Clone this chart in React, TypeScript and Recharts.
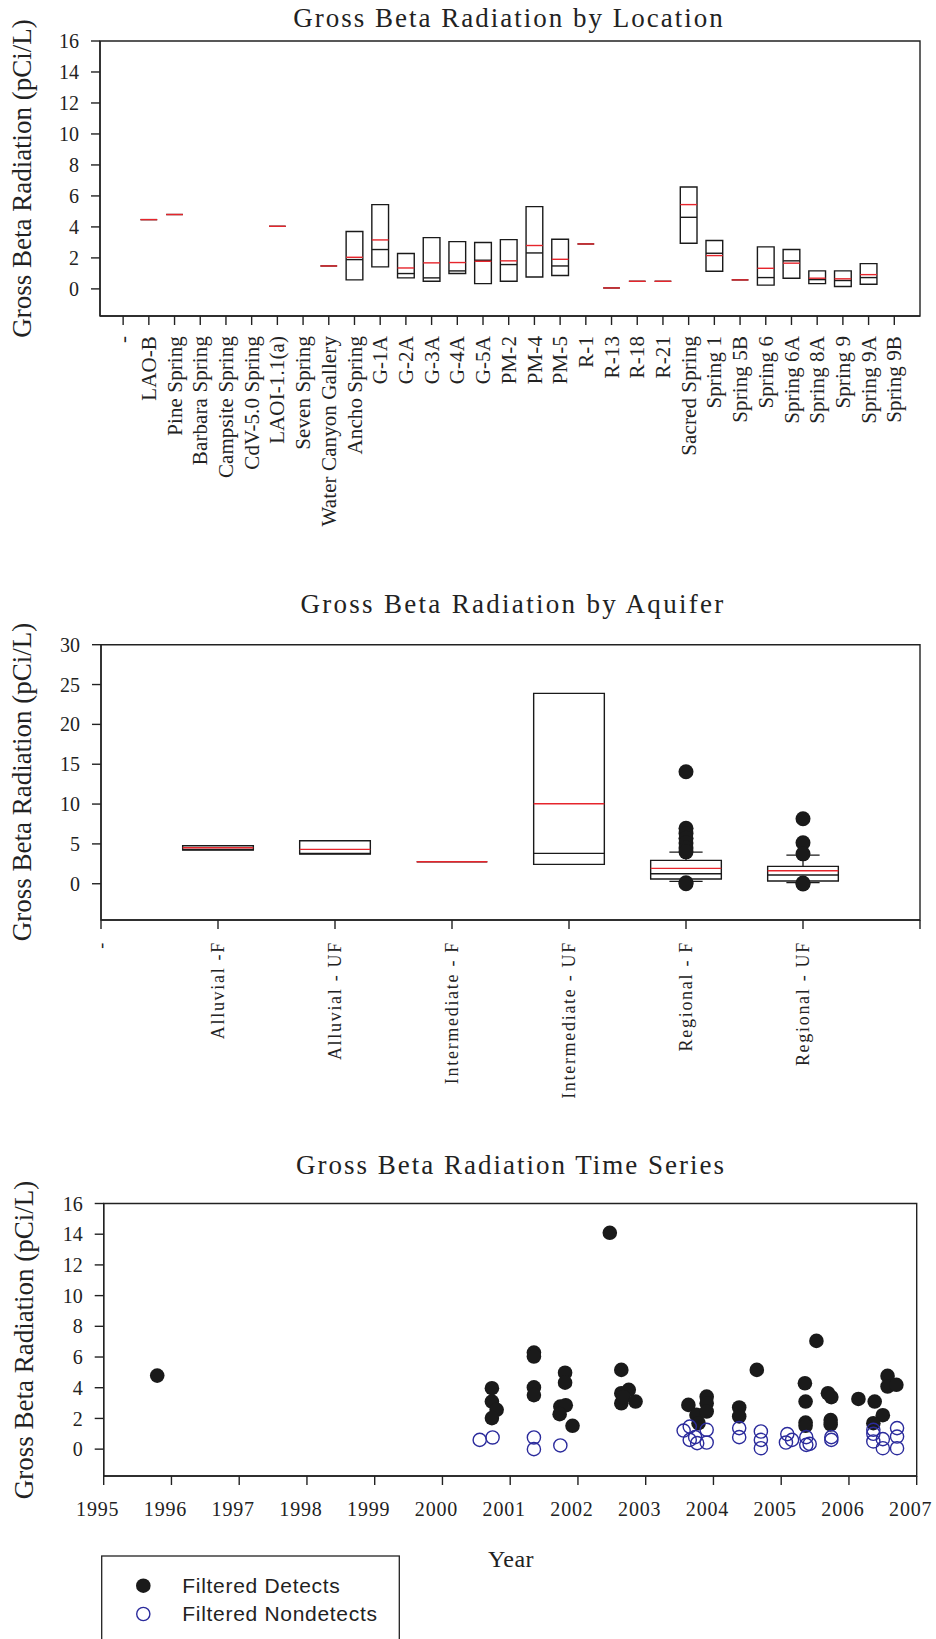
import React from 'react';
import { ComposedChart, Scatter, XAxis, YAxis, ReferenceArea, ReferenceLine } from 'recharts';

const SERIF = '"Liberation Serif", "Times New Roman", serif';
const SANS = '"Liberation Sans", Arial, sans-serif';
const INK = '#222222';
const BOX = '#1a1a1a';
const RED = '#e6252c';
const BLUE = '#2b2b9c';

// ---------- Chart 1: by location ----------
const locationNames = [
  '-', 'LAO-B', 'Pine Spring', 'Barbara Spring', 'Campsite Spring', 'CdV-5.0 Spring',
  'LAOI-1.1(a)', 'Seven Spring', 'Water Canyon Gallery', 'Ancho Spring', 'G-1A', 'G-2A',
  'G-3A', 'G-4A', 'G-5A', 'PM-2', 'PM-4', 'PM-5', 'R-1', 'R-13', 'R-18', 'R-21',
  'Sacred Spring', 'Spring 1', 'Spring 5B', 'Spring 6', 'Spring 6A', 'Spring 8A',
  'Spring 9', 'Spring 9A', 'Spring 9B',
];
const locationQ1 = [null, 4.47, 4.8, null, null, null, 4.04, null, 1.48, 0.58, 1.42, 0.71, 0.49, 0.99, 0.34, 0.49, 0.77, 0.86, 2.9, 0.06, 0.49, 0.49, 2.95, 1.14, 0.58, 0.24, 0.69, 0.34, 0.15, 0.3, null];
const locationMedian = [null, 4.47, 4.8, null, null, null, 4.04, null, 1.48, 1.89, 2.54, 0.99, 0.71, 1.16, 1.85, 1.57, 2.32, 1.48, 2.9, 0.06, 0.49, 0.49, 4.62, 2.3, 0.58, 0.73, 1.81, 0.6, 0.54, 0.73, null];
const locationQ3 = [null, 4.47, 4.8, null, null, null, 4.04, null, 1.48, 3.7, 5.44, 2.28, 3.31, 3.05, 2.99, 3.18, 5.31, 3.2, 2.9, 0.06, 0.49, 0.49, 6.58, 3.12, 0.58, 2.71, 2.54, 1.16, 1.16, 1.63, null];
const locationMean = [null, 4.47, 4.8, null, null, null, 4.04, null, 1.48, 2.04, 3.16, 1.35, 1.68, 1.7, 1.78, 1.81, 2.8, 1.91, 2.9, 0.06, 0.49, 0.49, 5.44, 2.15, 0.58, 1.33, 1.66, 0.69, 0.65, 0.92, null];
const locationYTicks = [0, 2, 4, 6, 8, 10, 12, 14, 16];

// ---------- Chart 2: by aquifer ----------
const aquiferNames = ['-', 'Alluvial -F', 'Alluvial - UF', 'Intermediate - F', 'Intermediate - UF', 'Regional - F', 'Regional - UF', ''];
const aquiferQ1 = [null, 4.23, 3.73, 2.76, 2.43, 0.59, 0.34];
const aquiferMedian = [null, 4.3, 3.8, 2.76, 3.81, 1.26, 1.09];
const aquiferQ3 = [null, 4.77, 5.4, 2.76, 23.89, 2.93, 2.18];
const aquiferMean = [null, 4.52, 4.31, 2.76, 10.04, 1.93, 1.63];
const aquiferWhiskerLow = [null, null, null, null, null, 0.3, 0.13];
const aquiferWhiskerHigh = [null, null, null, null, null, 3.98, 3.6];
const regionalFOutliers = [14.05, 6.95, 6.3, 5.7, 5.1, 4.5, 4.0, 0.13, 0.0];
const regionalUFOutliers = [8.16, 5.14, 3.75, 0.1, -0.04];
const aquiferYTicks = [0, 5, 10, 15, 20, 25, 30];

// ---------- Chart 3: time series ----------
const detectPoints = [
  [1995.79, 4.79],
  [2000.73, 3.97], [2000.73, 3.1], [2000.8, 2.56], [2000.73, 2.02],
  [2001.35, 6.29], [2001.35, 6.03], [2001.35, 4.02], [2001.35, 3.52],
  [2001.81, 4.98], [2001.81, 4.33], [2001.74, 2.77], [2001.82, 2.86], [2001.73, 2.28], [2001.92, 1.52],
  [2002.47, 14.09],
  [2002.64, 5.16], [2002.64, 3.64], [2002.64, 2.99], [2002.75, 3.86], [2002.67, 3.4], [2002.85, 3.1],
  [2003.63, 2.88], [2003.75, 2.23], [2003.78, 1.69], [2003.9, 3.42], [2003.9, 2.99], [2003.9, 2.45],
  [2004.38, 2.71], [2004.38, 2.13], [2004.64, 5.16],
  [2005.35, 4.29], [2005.36, 3.1], [2005.36, 1.73], [2005.36, 1.52], [2005.52, 7.05],
  [2005.69, 3.64], [2005.74, 3.39], [2005.73, 1.89], [2005.73, 1.61],
  [2006.14, 3.27], [2006.38, 3.1], [2006.5, 2.21], [2006.36, 1.69],
  [2006.57, 4.77], [2006.57, 4.08], [2006.7, 4.19],
];
const nondetectPoints = [
  [2000.55, 0.6], [2000.74, 0.76], [2001.35, 0.76], [2001.35, 0.0], [2001.74, 0.24],
  [2003.56, 1.21], [2003.65, 1.47], [2003.65, 0.6], [2003.76, 0.39], [2003.73, 0.78], [2003.9, 1.26], [2003.9, 0.43],
  [2004.38, 1.37], [2004.38, 0.78], [2004.7, 1.15], [2004.7, 0.6], [2004.7, 0.06],
  [2005.09, 0.98], [2005.07, 0.43], [2005.16, 0.6], [2005.37, 0.78], [2005.37, 0.28], [2005.42, 0.34],
  [2005.74, 0.78], [2005.74, 0.6],
  [2006.36, 1.26], [2006.36, 1.0], [2006.36, 0.5], [2006.5, 0.65], [2006.5, 0.06],
  [2006.71, 1.37], [2006.71, 0.82], [2006.71, 0.06],
];
const yearTicks = [1995, 1996, 1997, 1998, 1999, 2000, 2001, 2002, 2003, 2004, 2005, 2006, 2007];
const seriesYTicks = [0, 2, 4, 6, 8, 10, 12, 14, 16];

const Y_LABEL = 'Gross Beta Radiation (pCi/L)';

const tickStyle = { fontSize: 20, fontFamily: SERIF, fill: INK };

function makeRotTick(names: string[], offset: number, fontSize: number, spacing: number) {
  return (props: any) => {
    const { x, y, payload } = props;
    const label = names[Math.round(payload.value) - offset] ?? '';
    return (
      <text
        x={x}
        y={y}
        transform={`rotate(-90 ${x} ${y})`}
        textAnchor="end"
        dy="0.34em"
        fontSize={fontSize}
        fontFamily={SERIF}
        fill={INK}
        letterSpacing={spacing}
      >
        {label}
      </text>
    );
  };
}

const yearTick = (props: any) => {
  const { x, y, payload } = props;
  return (
    <text x={x - 6} y={y} dy="0.71em" textAnchor="middle" fontSize={20} fontFamily={SERIF} fill={INK} letterSpacing={0.8}>
      {payload.value}
    </text>
  );
};

function hLine(half: number, color: string, width: number) {
  return (p: any) => (
    <line x1={p.cx - half} x2={p.cx + half} y1={p.cy} y2={p.cy} stroke={color} strokeWidth={width} />
  );
}

const dotShape = (r: number) => (p: any) => <circle cx={p.cx} cy={p.cy} r={r} fill="#1a1a1a" />;
const ringShape = (p: any) => <circle cx={p.cx} cy={p.cy} r={6.6} fill="none" stroke={BLUE} strokeWidth={1.4} />;

function LocationChart() {
  const boxes = locationNames
    .map((_, i) => ({ x: i + 1, q1: locationQ1[i], q3: locationQ3[i] }))
    .filter((b) => b.q1 != null && b.q3 != null && (b.q3 as number) > (b.q1 as number));
  const medians = locationNames
    .map((_, i) => ({ x: i + 1, y: locationMedian[i] }))
    .filter((d) => d.y != null);
  const means = locationNames
    .map((_, i) => ({ x: i + 1, y: locationMean[i] }))
    .filter((d) => d.y != null);
  const ticks = locationNames.map((_, i) => i + 1);
  return (
    <div style={{ position: 'absolute', left: 0, top: 0 }}>
      <ComposedChart width={936} height={560} margin={{ top: 41, right: 16, bottom: 20, left: 0 }}>
        <XAxis
          type="number"
          dataKey="x"
          domain={[0.1, 32]}
          allowDataOverflow
          ticks={ticks}
          interval={0}
          height={224}
          tickSize={9}
          tickMargin={11}
          stroke={INK}
          strokeWidth={1.4}
          tick={makeRotTick(locationNames, 1, 21, 0.1)}
        />
        <YAxis
          type="number"
          dataKey="y"
          domain={[-1.75, 16]}
          allowDataOverflow
          ticks={locationYTicks}
          interval={0}
          width={100}
          tickSize={9}
          tickMargin={12}
          stroke={INK}
          strokeWidth={1.4}
          tick={tickStyle}
        />
        <ReferenceArea x1={0.1} x2={32} y1={-1.75} y2={16} fill="none" stroke={INK} strokeWidth={1.4} ifOverflow="visible" />
        {boxes.map((b) => (
          <ReferenceArea
            key={b.x}
            x1={b.x - 0.325}
            x2={b.x + 0.325}
            y1={b.q1 as number}
            y2={b.q3 as number}
            fill="none"
            stroke={BOX}
            strokeWidth={1.4}
            ifOverflow="visible"
          />
        ))}
        <Scatter data={medians} shape={hLine(8.35, BOX, 1.4)} isAnimationActive={false} />
        <Scatter data={means} shape={hLine(8.35, RED, 1.4)} isAnimationActive={false} />
      </ComposedChart>
    </div>
  );
}

function AquiferChart() {
  const boxes = aquiferNames
    .map((_, i) => ({ x: i, q1: aquiferQ1[i], q3: aquiferQ3[i] }))
    .filter((b) => b.q1 != null && b.q3 != null && (b.q3 as number) > (b.q1 as number));
  const medians = aquiferQ1
    .map((_, i) => ({ x: i, y: aquiferMedian[i] }))
    .filter((d) => d.y != null);
  const means = aquiferQ1
    .map((_, i) => ({ x: i, y: aquiferMean[i] }))
    .filter((d) => d.y != null);
  const whiskers = aquiferQ1
    .map((_, i) => ({ x: i, lo: aquiferWhiskerLow[i], hi: aquiferWhiskerHigh[i], q1: aquiferQ1[i], q3: aquiferQ3[i] }))
    .filter((w) => w.lo != null && w.hi != null);
  const outliers = [
    ...regionalFOutliers.map((v) => ({ x: 5, y: v })),
    ...regionalUFOutliers.map((v) => ({ x: 6, y: v })),
  ];
  const ticks = [0, 1, 2, 3, 4, 5, 6, 7];
  return (
    <div style={{ position: 'absolute', left: 0, top: 560 }}>
      <ComposedChart width={936} height={590} margin={{ top: 84.7, right: 16, bottom: 10, left: 0 }}>
        <XAxis
          type="number"
          dataKey="x"
          domain={[0, 7]}
          allowDataOverflow
          ticks={ticks}
          interval={0}
          height={220}
          tickSize={9}
          tickMargin={12}
          stroke={INK}
          strokeWidth={1.4}
          tick={makeRotTick(aquiferNames, 0, 18, 1.7)}
        />
        <YAxis
          type="number"
          dataKey="y"
          domain={[-4.55, 30]}
          allowDataOverflow
          ticks={aquiferYTicks}
          interval={0}
          width={101}
          tickSize={9}
          tickMargin={12}
          stroke={INK}
          strokeWidth={1.4}
          tick={tickStyle}
        />
        <ReferenceArea x1={0} x2={7} y1={-4.55} y2={30} fill="none" stroke={INK} strokeWidth={1.4} ifOverflow="visible" />
        {boxes.map((b) => (
          <ReferenceArea
            key={b.x}
            x1={b.x - 0.302}
            x2={b.x + 0.302}
            y1={b.q1 as number}
            y2={b.q3 as number}
            fill="none"
            stroke={BOX}
            strokeWidth={1.4}
            ifOverflow="visible"
          />
        ))}
        {whiskers.map((w) => (
          <ReferenceLine key={`wh${w.x}`} segment={[{ x: w.x, y: w.q3 as number }, { x: w.x, y: w.hi as number }]} stroke={BOX} strokeWidth={1.3} ifOverflow="visible" />
        ))}
        {whiskers.map((w) => (
          <ReferenceLine key={`wl${w.x}`} segment={[{ x: w.x, y: w.q1 as number }, { x: w.x, y: w.lo as number }]} stroke={BOX} strokeWidth={1.3} ifOverflow="visible" />
        ))}
        {whiskers.map((w) => (
          <ReferenceLine key={`ch${w.x}`} segment={[{ x: w.x - 0.142, y: w.hi as number }, { x: w.x + 0.142, y: w.hi as number }]} stroke={BOX} strokeWidth={1.3} ifOverflow="visible" />
        ))}
        {whiskers.map((w) => (
          <ReferenceLine key={`cl${w.x}`} segment={[{ x: w.x - 0.142, y: w.lo as number }, { x: w.x + 0.142, y: w.lo as number }]} stroke={BOX} strokeWidth={1.3} ifOverflow="visible" />
        ))}
        <Scatter data={medians} shape={hLine(35.3, BOX, 1.4)} isAnimationActive={false} />
        <Scatter data={means} shape={hLine(35.3, RED, 1.4)} isAnimationActive={false} />
        <Scatter data={outliers} shape={dotShape(7.5)} isAnimationActive={false} />
      </ComposedChart>
    </div>
  );
}

function TimeSeriesChart() {
  const detects = detectPoints.map(([x, y]) => ({ x, y }));
  const nondetects = nondetectPoints.map(([x, y]) => ({ x, y }));
  return (
    <div style={{ position: 'absolute', left: 0, top: 1150 }}>
      <ComposedChart width={936} height={489} margin={{ top: 53.5, right: 19.3, bottom: 103, left: 0 }}>
        <XAxis
          type="number"
          dataKey="x"
          domain={[1995, 2007]}
          allowDataOverflow
          ticks={yearTicks}
          interval={0}
          height={60}
          tickSize={9}
          tickMargin={17}
          stroke={INK}
          strokeWidth={1.4}
          tick={yearTick}
        />
        <YAxis
          type="number"
          dataKey="y"
          domain={[-1.75, 16]}
          allowDataOverflow
          ticks={seriesYTicks}
          interval={0}
          width={103.7}
          tickSize={9}
          tickMargin={12}
          stroke={INK}
          strokeWidth={1.4}
          tick={tickStyle}
        />
        <ReferenceArea x1={1995} x2={2007} y1={-1.75} y2={16} fill="none" stroke={INK} strokeWidth={1.4} ifOverflow="visible" />
        <Scatter name="Filtered Detects" data={detects} shape={dotShape(7.3)} isAnimationActive={false} />
        <Scatter name="Filtered Nondetects" data={nondetects} shape={ringShape} isAnimationActive={false} />
      </ComposedChart>
    </div>
  );
}

function Overlay() {
  const title = { fontSize: 27, fontFamily: SERIF, fill: INK, letterSpacing: 2 } as const;
  const ylab = { fontSize: 27, fontFamily: SERIF, fill: INK } as const;
  return (
    <svg
      width={936}
      height={1639}
      style={{ position: 'absolute', left: 0, top: 0, pointerEvents: 'none' }}
    >
      <text x={509} y={27} textAnchor="middle" {...title}>Gross Beta Radiation by Location</text>
      <text x={513} y={613} textAnchor="middle" {...title} letterSpacing={2.3}>Gross Beta Radiation by Aquifer</text>
      <text x={511} y={1174} textAnchor="middle" {...title}>Gross Beta Radiation Time Series</text>

      <text x={31} y={178.5} transform="rotate(-90 31 178.5)" textAnchor="middle" {...ylab}>{Y_LABEL}</text>
      <text x={31} y={782} transform="rotate(-90 31 782)" textAnchor="middle" {...ylab}>{Y_LABEL}</text>
      <text x={33} y={1340} transform="rotate(-90 33 1340)" textAnchor="middle" {...ylab}>{Y_LABEL}</text>

      <text x={511} y={1567} textAnchor="middle" fontSize={24} fontFamily={SERIF} fill={INK} letterSpacing={0.5}>Year</text>

      <rect x={101.7} y={1556} width={297.6} height={120} fill="none" stroke={INK} strokeWidth={1.3} />
      <circle cx={143.3} cy={1585.7} r={7.3} fill="#1a1a1a" />
      <text x={182.3} y={1593.3} fontSize={21} fontFamily={SANS} fill={INK} letterSpacing={0.7}>Filtered Detects</text>
      <circle cx={143.3} cy={1614} r={6.6} fill="none" stroke={BLUE} strokeWidth={1.4} />
      <text x={182.3} y={1620.7} fontSize={21} fontFamily={SANS} fill={INK} letterSpacing={0.7}>Filtered Nondetects</text>
    </svg>
  );
}

export default function App() {
  return (
    <div style={{ position: 'absolute', left: 0, top: 0, width: 936, height: 1639, background: '#fff', overflow: 'hidden' }}>
      <LocationChart />
      <AquiferChart />
      <TimeSeriesChart />
      <Overlay />
    </div>
  );
}
